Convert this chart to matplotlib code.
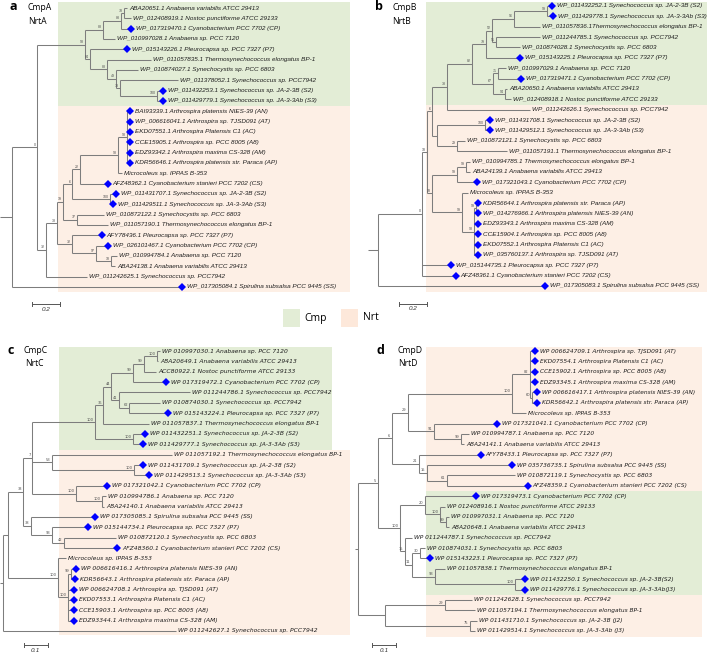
import matplotlib
matplotlib.use("Agg")
import matplotlib.pyplot as plt
from matplotlib.patches import Rectangle
from matplotlib.collections import LineCollection

# ---------------- data ----------------
A_LABELS = [
    "ABA20651.1 Anabaena variabilis ATCC 29413",
    "WP_012408919.1 Nostoc punctiforme ATCC 29133",
    "WP_017319470.1 Cyanobacterium PCC 7702 (CP)",
    "WP_010997028.1 Anabaena sp. PCC 7120",
    "WP_015143226.1 Pleurocapsa sp. PCC 7327 (P7)",
    "WP_011057835.1 Thermosynechococcus elongatus BP-1",
    "WP_010874027.1 Synechocystis sp. PCC 6803",
    "WP_011378052.1 Synechococcus sp. PCC7942",
    "WP_011432253.1 Synechococcus sp. JA-2-3B (S2)",
    "WP_011429779.1 Synechococcus sp. JA-3-3Ab (S3)",
    "BAI93339.1 Arthrospira platensis NIES-39 (AN)",
    "WP_006616041.1 Arthrospira sp. TJSD091 (AT)",
    "EKD07551.1 Arthrospira Platensis C1 (AC)",
    "CCE15905.1 Arthrospira sp. PCC 8005 (A8)",
    "EDZ93342.1 Arthrospira maxima CS-328 (AM)",
    "KDR56646.1 Arthrospira platensis str. Paraca (AP)",
    "Microcoleus sp. IPPAS B-353",
    "AFZ48362.1 Cyanobacterium stanieri PCC 7202 (CS)",
    "WP_011431707.1 Synechococcus sp. JA-2-3B (S2)",
    "WP_011429511.1 Synechococcus sp. JA-3-3Ab (S3)",
    "WP_010872122.1 Synechocystis sp. PCC 6803",
    "WP_011057190.1 Thermosynechococcus elongatus BP-1",
    "AFY78436.1 Pleurocapsa sp. PCC 7327 (P7)",
    "WP_026101467.1 Cyanobacterium PCC 7702 (CP)",
    "WP_010994784.1 Anabaena sp. PCC 7120",
    "ABA24138.1 Anabaena variabilis ATCC 29413",
    "WP_011242625.1 Synechococcus sp. PCC7942",
    "WP_017305084.1 Spirulina subsalsa PCC 9445 (SS)",
]
A_MARK = [0,0,1,0,1,0,0,0,1,1, 1,1,1,1,1,1,0,1,1,1, 0,0,1,1,0,0,0,1]
A_CMP = "((((0:0.021,1:0.050)78:0.021,2:0.071)83:0.129,3:0.086)88:0.129," \
        "(4:0.264,(5:0.314,(6:0.157,(7:0.414,(8:0.043,9:0.043)100:0.264)33:0.029)49:0.064)88:0.121)84:0.036)98:0.343"
A_NRT = "(((((((10:0.021,11:0.021,12:0.021,13:0.021,14:0.021,15:0.021)98:0.064,16:0.029)98:0.271,17:0.200)22:0.057," \
        "(18:0.043,19:0.021)100:0.271)6:0.064,(20:0.193,21:0.221)37:0.100)19:0.043," \
        "(22:0.214,(23:0.086,(24:0.043,25:0.029)18:0.107)97:0.171)32:0.107)38:0.079,26:0.293)32:0.064"
A_TREE = "((" + A_CMP + "," + A_NRT + ")0:0.179,27:1.214);"

B_LABELS = [
    "WP_011432252.1 Synechococcus sp. JA-2-3B (S2)",
    "WP_011429778.1 Synechococcus sp. JA-3-3Ab (S3)",
    "WP_011057836.1Thermosynechococcus elongatus BP-1",
    "WP_011244785.1 Synechococcus sp. PCC7942",
    "WP_010874028.1 Synechocystis sp. PCC 6803",
    "WP_015143225.1 Pleurocapsa sp. PCC 7327 (P7)",
    "WP_010997029.1 Anabaena sp. PCC 7120",
    "WP_017319471.1 Cyanobacterium PCC 7702 (CP)",
    "ABA20650.1 Anabaena variabilis ATCC 29413",
    "WP_012408918.1 Nostoc punctiforme ATCC 29133",
    "WP_011242626.1 Synechococcus sp. PCC7942",
    "WP_011431708.1 Synechococcus sp. JA-2-3B (S2)",
    "WP_011429512.1 Synechococcus sp. JA-3-3Ab (S3)",
    "WP_010872121.1 Synechocystis sp. PCC 6803",
    "WP_011057191.1 Thermosynechococcus elongatus BP-1",
    "WP_010994785.1 Thermosynechococcus elongatus BP-1",
    "ABA24139.1 Anabaena variabilis ATCC 29413",
    "WP_017321043.1 Cyanobacterium PCC 7702 (CP)",
    "Microcoleus sp. IPPAS B-353",
    "KDR56644.1 Arthrospira platensis str. Paraca (AP)",
    "WP_014276966.1 Arthrospira platensis NIES-39 (AN)",
    "EDZ93343.1 Arthrospira maxima CS-328 (AM)",
    "CCE15904.1 Arthrospira sp. PCC 8005 (A8)",
    "EKD07552.1 Arthrospira Platensis C1 (AC)",
    "WP_035760137.1 Arthrospira sp. TJSD091 (AT)",
    "WP_015144735.1 Pleurocapsa sp. PCC 7327 (P7)",
    "AFZ48361.1 Cyanobacterium stanieri PCC 7202 (CS)",
    "WP_017305083.1 Spirulina subsalsa PCC 9445 (SS)",
]
B_MARK = [1,1,0,0,0,1,0,1,0,0, 0,1,1,0,0,0,0,1,0,1, 1,1,1,1,1,1,1,1]
B_CMP = "((((((0:0.036,1:0.043)99:0.236,2:0.186)96:0.157,(3:0.314,4:0.171)51:0.029)52:0.043,5:0.243)79:0.100," \
        "((6:0.057,7:0.164)71:0.036,(8:0.014,9:0.043)94:0.086)67:0.150)82:0.179,10:0.593)33:0.107"
B_NRT1 = "((11:0.036,12:0.036)100:0.343,(13:0.057,14:0.357)29:0.143):0.036"
B_NRT2 = "(((15:0.029,16:0.029)99:0.064,17:0.143)99:0.179," \
         "(18:0.043,((19:0.014,20:0.014)99:0.014,21:0.029,22:0.029,23:0.029,24:0.029)98:0.086)99:0.214)18:0.036"
B_TREE = "((((" + B_CMP + "," + B_NRT1 + ")6:0.036," + B_NRT2 + ")18:0.036,25:0.207,26:0.243)0:0.314,27:1.193);"

C_LABELS = [
    "WP 010997030.1 Anabaena sp. PCC 7120",
    "ABA20649.1 Anabaena variabilis ATCC 29413",
    "ACC80922.1 Nostoc punctiforme ATCC 29133",
    "WP 017319472.1 Cyanobacterium PCC 7702 (CP)",
    "WP 011244786.1 Synechococcus sp. PCC7942",
    "WP 010874030.1 Synechococcus sp. PCC7942",
    "WP 015143224.1 Pleurocapsa sp. PCC 7327 (P7)",
    "WP 011057837.1 Thermosynechococcus elongatus BP-1",
    "WP 011432251.1 Synechococcus sp. JA-2-3B (S2)",
    "WP 011429777.1 Synechococcus sp. JA-3-3Ab (S3)",
    "WP 011057192.1 Thermosynechococcus elongatus BP-1",
    "WP 011431709.1 Synechococcus sp. JA-2-38 (S2)",
    "WP 011429513.1 Synechococcus sp. JA-3-3Ab (S3)",
    "WP 017321042.1 Cyanobacterium PCC 7702 (CP)",
    "WP 010994786.1 Anabaena sp. PCC 7120",
    "ABA24140.1 Anabaena variabilis ATCC 29413",
    "WP 017305085.1 Spirulina subsalsa PCC 9445 (SS)",
    "WP 015144734.1 Pleurocapsa sp. PCC 7327 (P7)",
    "WP 010872120.1 Synechocystis sp. PCC 6803",
    "AFZ48360.1 Cyanobacterium stanieri PCC 7202 (CS)",
    "Microcoleus sp. IPPAS B-353",
    "WP 006616416.1 Arthrospira platensis NIES-39 (AN)",
    "KDR56643.1 Arthrospira platensis str. Paraca (AP)",
    "WP 006624708.1 Arthrospira sp. TJSD091 (AT)",
    "EKD07553.1 Arthrospira Platensis C1 (AC)",
    "CCE15903.1 Arthrospira sp. PCC 8005 (A8)",
    "EDZ93344.1 Arthrospira maxima CS-328 (AM)",
    "WP 011242627.1 Synechococcus sp. PCC7942",
]
C_MARK = [0,0,0,1,0,0,1,0,1,1, 0,1,1,1,0,0,1,1,0,1, 0,1,1,1,1,1,1,0]
C_CMP = "((((((0:0.013,1:0.004)100:0.054,2:0.050)99:0.046,3:0.138)99:0.092,(4:0.296,(5:0.129,6:0.163)62:0.042)41:0.033)44:0.033," \
        "7:0.192)36:0.033,(8:0.050,9:0.042)100:0.158)100:0.263"
C_NRT1 = "(10:0.500,(11:0.038,12:0.063)100:0.342)53:0.083"
C_NRT2 = "(13:0.129,(14:0.017,15:0.008)100:0.108)100:0.183"
C_NRT3 = "(16:0.267,(17:0.150,(18:0.217,19:0.221)42:0.050)93:0.088)38:0.033"
C_NRT4 = "(20:0.033,((21:0.021,22:0.017)99:0.013,23:0.025,24:0.025,25:0.025,26:0.025)100:0.042)100:0.208"
C_TREE = "((((" + C_CMP + "," + C_NRT1 + "," + C_NRT2 + ")7:0.038," + C_NRT3 + ")33:0.063," + C_NRT4 + "):0.021,27:0.721);"

D_LABELS = [
    "WP 006624709.1 Arthrospira sp. TJSD091 (AT)",
    "EKD07554.1 Arthrospira Platensis C1 (AC)",
    "CCE15902.1 Arthrospira sp. PCC 8005 (A8)",
    "EDZ93345.1 Arthrospira maxima CS-328 (AM)",
    "WP 006616417.1 Arthrospira platensis NIES-39 (AN)",
    "KDR56642.1 Arthrospira platensis str. Paraca (AP)",
    "Microcoleus sp. IPPAS B-353",
    "WP 017321041.1 Cyanobacterium PCC 7702 (CP)",
    "WP 010994787.1 Anabaena sp. PCC 7120",
    "ABA24141.1 Anabaena variabilis ATCC 29413",
    "AFY78433.1 Pleurocapsa sp. PCC 7327 (P7)",
    "WP 035736735.1 Spirulina subsalsa PCC 9445 (SS)",
    "WP 010872119.1 Synechocystis sp. PCC 6803",
    "AFZ48359.1 Cyanobacterium stanieri PCC 7202 (CS)",
    "WP 017319473.1 Cyanobacterium PCC 7702 (CP)",
    "WP 012408916.1 Nostoc punctiforme ATCC 29133",
    "WP 010997031.1 Anabaena sp. PCC 7120",
    "ABA20648.1 Anabaena variabilis ATCC 29413",
    "WP 011244787.1 Synechococcus sp. PCC7942",
    "WP 010874031.1 Synechocystis sp. PCC 6803",
    "WP 015143223.1 Pleurocapsa sp. PCC 7327 (P7)",
    "WP 011057838.1 Thermosynechococcus elongatus BP-1",
    "WP 011432250.1 Synechococcus sp. JA-2-3B(S2)",
    "WP 011429776.1 Synechococcus sp. JA-3-3Ab(J3)",
    "WP 011242628.1 Synechococcus sp. PCC7942",
    "WP 011057194.1 Thermosynechococcus elongatus BP-1",
    "WP 011431710.1 Synechococcus sp. JA-2-3B (J2)",
    "WP 011429514.1 Synechococcus sp. JA-3-3Ab (J3)",
]
D_MARK = [1,1,1,1,1,1,0,1,0,0, 1,1,0,1,1,0,0,0,0,0, 1,0,1,1,0,0,0,0]
D_NRT1 = "(((0:0.021,1:0.021,2:0.021,3:0.021,(4:0.021,5:0.021)60:0.008)82:0.075,6:0.058)100:0.433," \
         "(7:0.263,(8:0.033,9:0.013)99:0.113)91:0.108)29:0.067"
D_NRT2 = "(10:0.258,(11:0.354,(12:0.283,13:0.338)61:0.083)15:0.033)21:0.113"
D_CMP = "((14:0.213,(15:0.021,(16:0.013,17:0.013)99:0.025)100:0.063)20:0.104," \
        "(18:0.029,((19:0.021,20:0.042)30:0.033,(21:0.042,(22:0.042,23:0.042)100:0.333)93:0.096)11:0.029)15:0.021)100:0.092"
D_NRT3 = "((24:0.113,25:0.125)29:0.250,(26:0.029,27:0.021)75:0.354):0.113"
D_TREE = "(((" + D_NRT1 + "," + D_NRT2 + ")6:0.058," + D_CMP + ")5:0.083," + D_NRT3 + ");"

# ---------------- helpers ----------------
W, H = 710, 654
LINE_C = "#7d7d7d"
GREEN = "#e3edd6"
PINK = "#fdefe5"
TEXT_C = "#1e1e1e"


def parse_newick(s):
    s = s.strip().rstrip(";")
    pos = [0]

    def parse():
        node = {"children": [], "name": "", "len": 0.0}
        if s[pos[0]] == "(":
            pos[0] += 1
            while True:
                node["children"].append(parse())
                c = s[pos[0]]
                pos[0] += 1
                if c == ")":
                    break
        st = pos[0]
        while pos[0] < len(s) and s[pos[0]] not in ":,()":
            pos[0] += 1
        node["name"] = s[st:pos[0]]
        if pos[0] < len(s) and s[pos[0]] == ":":
            pos[0] += 1
            st = pos[0]
            while pos[0] < len(s) and s[pos[0]] not in ",()":
                pos[0] += 1
            node["len"] = float(s[st:pos[0]])
        return node
    return parse()


def layout(node, x0=0.0):
    node["x"] = x0 + node["len"]
    if node["children"]:
        for ch in node["children"]:
            layout(ch, node["x"])
        node["y"] = (node["children"][0]["y"] + node["children"][-1]["y"]) / 2.0
    else:
        node["y"] = float(int(node["name"]))


def walk(node, segs, internals):
    if node["children"]:
        ys = [c["y"] for c in node["children"]]
        segs.append([(node["x"], min(ys)), (node["x"], max(ys))])
        for c in node["children"]:
            segs.append([(node["x"], c["y"]), (c["x"], c["y"])])
            walk(c, segs, internals)
        internals.append(node)


def draw_panel(rect, root_px, ppu, ylead, dy, tree, labels, marks, regions,
               stub, scale, font, fsize, bsize):
    x0, y0, x1, y1 = rect
    ax = fig.add_axes([x0 / W, 1 - y1 / H, (x1 - x0) / W, (y1 - y0) / H])
    ax.set_xlim((x0 - root_px) / ppu, (x1 - root_px) / ppu)
    ax.set_ylim((y1 - ylead) / dy, (y0 - ylead) / dy)
    ax.axis("off")
    for (px_a, px_b, ia, ib, col) in regions:
        ax.add_patch(Rectangle(((px_a - root_px) / ppu, ia), (px_b - px_a) / ppu, ib - ia,
                               facecolor=col, edgecolor="none", zorder=0))
    root = parse_newick(tree)
    layout(root)
    segs, internals = [], []
    walk(root, segs, internals)
    segs.append([(root["x"] - stub, root["y"]), (root["x"], root["y"])])
    ax.add_collection(LineCollection(segs, colors=LINE_C, linewidths=0.75, zorder=2))
    leaves = []

    def collect(n):
        if n["children"]:
            for c in n["children"]:
                collect(c)
        else:
            leaves.append(n)
    collect(root)
    for lf in leaves:
        i = int(lf["name"])
        if marks[i]:
            ax.plot(lf["x"], lf["y"], marker="D", ms=3.6, color="#0000ff", zorder=4,
                    markeredgewidth=0)
            off = 3.4
        else:
            off = 1.3
        ax.annotate(labels[i], (lf["x"], lf["y"]), xytext=(off, 0), textcoords="offset points",
                    va="center", ha="left", fontsize=fsize, style="italic", family=font,
                    color=TEXT_C, zorder=5)
    for n in internals:
        if n["name"] and n is not root:
            ax.annotate(n["name"], (n["x"], n["y"]), xytext=(-1.0, 0.4), textcoords="offset points",
                        va="bottom", ha="right", fontsize=bsize, color="#505050", family=font,
                        zorder=5)
    sx, sy, slen, slab = scale
    ax.plot([sx, sx + slen], [sy, sy], color="#555555", lw=0.7)
    for xx in (sx, sx + slen):
        ax.plot([xx, xx], [sy - 0.2, sy + 0.2], color="#555555", lw=0.7)
    ax.annotate(slab, (sx + slen / 2, sy), xytext=(0, -2.0), textcoords="offset points",
                ha="center", va="top", fontsize=fsize, style="italic", family=font, color="#333333")
    return ax


fig = plt.figure(figsize=(W / 100, H / 100), dpi=100)

draw_panel((0, 0, 355, 325), 12, 140, 8, 10.33, A_TREE, A_LABELS, A_MARK,
           [(58, 350, -0.6, 9.5, GREEN), (58, 350, 9.5, 27.45, PINK)],
           0.086, (0.143, 28.65, 0.2, "0.2"), "Liberation Sans", 4.6, 2.6)
draw_panel((355, 0, 710, 325), 378, 140, 6, 10.37, B_TREE, B_LABELS, B_MARK,
           [(426, 707, -0.4, 9.5, GREEN), (426, 707, 9.5, 27.55, PINK)],
           0.071, (0.15, 28.7, 0.2, "0.2"), "Liberation Sans", 4.6, 2.6)
draw_panel((0, 330, 355, 654), 3, 240, 351, 10.37, C_TREE, C_LABELS, C_MARK,
           [(59, 332, -0.4, 9.5, GREEN), (59, 350, 9.5, 27.4, PINK)],
           0.0125, (0.0875, 28.35, 0.1, "0.1"), "DejaVu Sans", 4.3, 2.6)
draw_panel((355, 330, 710, 654), 358, 240, 351, 10.37, D_TREE, D_LABELS, D_MARK,
           [(426, 702, -0.4, 13.5, PINK), (426, 702, 13.5, 23.5, GREEN), (426, 702, 23.5, 27.6, PINK)],
           0.0125, (0.058, 28.35, 0.1, "0.1"), "DejaVu Sans", 4.2, 2.6)

# panel letters and titles
TITLES = [("a", "CmpA", "NrtA", 10, 7, 27, 28),
          ("b", "CmpB", "NrtB", 375, 7, 392, 392),
          ("c", "CmpC", "NrtC", 8, 350, 23, 25),
          ("d", "CmpD", "NrtD", 377, 350, 397, 398)]
for letter, t1, t2, lx, ly, tx1, tx2 in TITLES:
    fig.text(lx / W, 1 - ly / H, letter, fontsize=9, fontweight="bold", family="Open Sans",
             va="center", ha="left")
    fig.text(tx1 / W, 1 - ly / H, t1, fontsize=6.2, family="Open Sans", va="center", ha="left")
    fig.text(tx2 / W, 1 - (ly + 14) / H, t2, fontsize=6.2, family="Open Sans", va="center", ha="left")

# legend
LEGEND = [("Cmp", GREEN, 283, 304), ("Nrt", "#fde8da", 341, 363)]
for name, col, sqx, tx in LEGEND:
    fig.add_artist(Rectangle((sqx / W, 1 - 327 / H), 17 / W, 18 / H, transform=fig.transFigure,
                             facecolor=col, edgecolor="none"))
    fig.text(tx / W, 1 - 318 / H, name, fontsize=7.5, family="Open Sans", va="center", ha="left")

fig.savefig("out.png", dpi=100)
